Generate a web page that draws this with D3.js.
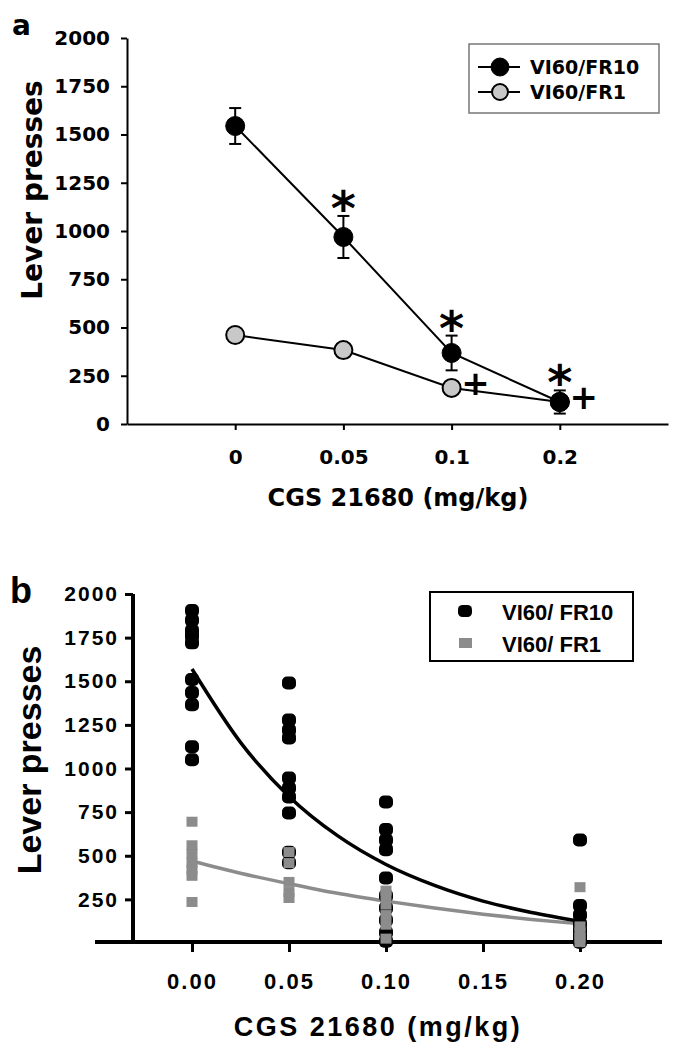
<!DOCTYPE html>
<html><head><meta charset="utf-8">
<script src="https://cdn.jsdelivr.net/npm/d3@7"></script>
<style>
html,body{margin:0;padding:0;background:#fff;}
svg{display:block;}
</style></head>
<body>
<svg id="chart" width="675" height="1050"></svg>
<script>
// ---------- Panel a data ----------
const dosesA = ["0", "0.05", "0.1", "0.2"];
const fr10Mean = [1544, 969, 368, 114];
const fr10Sem = [93, 109, 90, 60];
const fr1Mean = [461, 383, 187, 114];
const fr1Sem = [35, 12, 12, 30];
const starIdx = [1, 2, 3];
const plusIdx = [2, 3];
const yTicksA = [0, 250, 500, 750, 1000, 1250, 1500, 1750, 2000];
const seriesNames = ["VI60/FR10", "VI60/FR1"];

// ---------- Panel b data ----------
const dosesB = [0, 0.05, 0.1, 0.2];
const xTicksB = [0, 0.05, 0.10, 0.15, 0.20];
const yTicksB = [250, 500, 750, 1000, 1250, 1500, 1750, 2000];
const fr10Ind0 = [1905, 1850, 1790, 1760, 1720, 1510, 1435, 1365, 1125, 1050];
const fr10Ind1 = [1490, 1278, 1221, 1175, 946, 888, 837, 745, 520, 460];
const fr10Ind2 = [808, 650, 590, 535, 372, 270, 200, 130, 60, 10];
const fr10Ind3 = [590, 215, 160, 110, 75, 40, 20, 5];
const fr1Ind0 = [695, 560, 510, 460, 420, 385, 235];
const fr1Ind1 = [521, 458, 350, 292, 258];
const fr1Ind2 = [300, 275, 220, 160, 105, 25];
const fr1Ind3 = [320, 95, 60, 30, 5];
const fitX = [0, 0.025, 0.05, 0.075, 0.1, 0.125, 0.15, 0.175, 0.2];
const fr10Fit = [1570, 1150, 840, 615, 450, 330, 240, 175, 125];
const fr1Fit = [470, 400, 340, 285, 240, 200, 165, 135, 110];
const legendB = ["VI60/ FR10", "VI60/ FR1"];

const svg = d3.select("#chart");
const FA = "'DejaVu Sans', Verdana, sans-serif";
const FB = "'Liberation Sans', Arial, sans-serif";

// ================= PANEL A =================
const gA = svg.append("g");
const xA = d3.scalePoint().domain(dosesA).range([127, 668]).padding(1);
const yA = d3.scaleLinear().domain([0, 2000]).range([424, 38]);

const yAxA = gA.append("g").attr("transform", "translate(127,0)")
  .call(d3.axisLeft(yA).tickValues(yTicksA).tickSize(6).tickPadding(11).tickSizeOuter(0).tickFormat(d3.format("d")));
const xAxA = gA.append("g").attr("transform", "translate(0,424)")
  .call(d3.axisBottom(xA).tickSize(6).tickPadding(20).tickSizeOuter(0));
[yAxA, xAxA].forEach(ax => {
  ax.select(".domain").attr("stroke", "#000").attr("stroke-width", 2);
  ax.selectAll(".tick line").attr("stroke", "#000").attr("stroke-width", 2);
  ax.selectAll(".tick text").attr("fill", "#000").attr("font-family", FA)
    .attr("font-weight", "bold").attr("font-size", 20);
});

// lines
const lineA = d3.line().x((d, i) => xA(dosesA[i])).y(d => yA(d));
gA.append("path").datum(fr10Mean).attr("d", lineA).attr("fill", "none").attr("stroke", "#000").attr("stroke-width", 2);
gA.append("path").datum(fr1Mean).attr("d", lineA).attr("fill", "none").attr("stroke", "#000").attr("stroke-width", 2);

function errBars(means, sems) {
  means.forEach((m, i) => {
    const x = xA(dosesA[i]);
    const t = yA(m + sems[i]), b = yA(m - sems[i]);
    gA.append("line").attr("x1", x).attr("x2", x).attr("y1", t).attr("y2", b).attr("stroke", "#000").attr("stroke-width", 2);
    [t, b].forEach(yy => gA.append("line").attr("x1", x - 6).attr("x2", x + 6).attr("y1", yy).attr("y2", yy).attr("stroke", "#000").attr("stroke-width", 2));
  });
}
errBars(fr1Mean, fr1Sem);
errBars(fr10Mean, fr10Sem);

gA.selectAll("circle.fr1").data(fr1Mean).enter().append("circle")
  .attr("cx", (d, i) => xA(dosesA[i])).attr("cy", d => yA(d)).attr("r", 9)
  .attr("fill", "#c8c8c8").attr("stroke", "#000").attr("stroke-width", 2);
gA.selectAll("circle.fr10").data(fr10Mean).enter().append("circle")
  .attr("cx", (d, i) => xA(dosesA[i])).attr("cy", d => yA(d)).attr("r", 9.5)
  .attr("fill", "#000").attr("stroke", "#000").attr("stroke-width", 1);

// significance marks
starIdx.forEach(i => {
  gA.append("text").attr("x", xA(dosesA[i])).attr("y", yA(fr10Mean[i] + fr10Sem[i]) - 15 + 24)
    .attr("text-anchor", "middle").attr("font-family", FA).attr("font-weight", "bold")
    .attr("font-size", 48).text("*");
});
plusIdx.forEach(i => {
  gA.append("text").attr("x", xA(dosesA[i]) + 24).attr("y", yA(fr1Mean[i]) - 5 + 12)
    .attr("text-anchor", "middle").attr("font-family", FA).attr("font-weight", "bold")
    .attr("font-size", 34).text("+");
});

// titles
gA.append("text").attr("x", 12).attr("y", 35).attr("font-family", FA).attr("font-weight", "bold")
  .attr("font-size", 28).text("a");
gA.append("text").attr("transform", "translate(42,190) rotate(-90)").attr("text-anchor", "middle")
  .attr("font-family", FA).attr("font-weight", "bold").attr("font-size", 28).text("Lever presses");
gA.append("text").attr("x", 398).attr("y", 506).attr("text-anchor", "middle")
  .attr("font-family", FA).attr("font-weight", "bold").attr("font-size", 24).text("CGS 21680 (mg/kg)");

// legend a
gA.append("rect").attr("x", 469).attr("y", 44).attr("width", 190).attr("height", 69)
  .attr("fill", "#fff").attr("stroke", "#777").attr("stroke-width", 1.5);
seriesNames.forEach((name, i) => {
  const yy = 67 + i * 25;
  gA.append("line").attr("x1", 478).attr("x2", 520).attr("y1", yy).attr("y2", yy).attr("stroke", "#000").attr("stroke-width", 2);
  gA.append("circle").attr("cx", 500).attr("cy", yy).attr("r", i === 0 ? 9 : 8)
    .attr("fill", i === 0 ? "#000" : "#c8c8c8").attr("stroke", "#000").attr("stroke-width", i === 0 ? 1 : 2);
  gA.append("text").attr("x", 530).attr("y", yy + 7).attr("font-family", FA).attr("font-weight", "bold")
    .attr("font-size", 19).text(name);
});

// ================= PANEL B =================
const gB = svg.append("g");
const xB = d3.scaleLinear().domain([0, 0.2]).range([192, 580]);
const yB = d3.scaleLinear().domain([0, 2000]).range([943, 594]);

const xAxB = gB.append("g").attr("transform", "translate(0,942)")
  .call(d3.axisBottom(xB).tickValues(xTicksB).tickSize(10).tickPadding(21).tickSizeOuter(0).tickFormat(d3.format(".2f")));
xAxB.select(".domain").attr("d", "M95,0H662");
const yAxB = gB.append("g").attr("transform", "translate(133,0)")
  .call(d3.axisLeft(yB).tickValues(yTicksB).tickSize(8).tickPadding(6).tickSizeOuter(0).tickFormat(d3.format("d")));
yAxB.select(".domain").attr("d", "M0,594V942");
[xAxB, yAxB].forEach(ax => {
  ax.select(".domain").attr("stroke", "#000").attr("stroke-width", 4);
  ax.selectAll(".tick line").attr("stroke", "#000").attr("stroke-width", 3);
  ax.selectAll(".tick text").attr("fill", "#000").attr("font-family", FB)
    .attr("font-weight", "bold").attr("font-size", 22).attr("letter-spacing", 2);
});
yAxB.selectAll(".tick text").attr("font-size", 21);

// fit curves
const fitLine = d3.line().x((d, i) => xB(fitX[i])).y(d => yB(d)).curve(d3.curveMonotoneX);
gB.append("path").datum(fr1Fit).attr("d", fitLine).attr("fill", "none").attr("stroke", "#8c8c8c").attr("stroke-width", 3.5);
gB.append("path").datum(fr10Fit).attr("d", fitLine).attr("fill", "none").attr("stroke", "#000").attr("stroke-width", 3.5);

// individual points: black first, gray on top
const fr10Ind = [fr10Ind0, fr10Ind1, fr10Ind2, fr10Ind3];
const fr1Ind = [fr1Ind0, fr1Ind1, fr1Ind2, fr1Ind3];
fr10Ind.forEach((arr, i) => {
  gB.selectAll(null).data(arr).enter().append("rect")
    .attr("x", xB(dosesB[i]) - 7).attr("y", d => yB(d) - 6.5).attr("width", 14).attr("height", 13)
    .attr("rx", 5).attr("ry", 5).attr("fill", "#000");
});
fr1Ind.forEach((arr, i) => {
  gB.selectAll(null).data(arr).enter().append("rect")
    .attr("x", xB(dosesB[i]) - 5.5).attr("y", d => yB(d) - 5).attr("width", 11).attr("height", 10)
    .attr("fill", "#8c8c8c");
});

// titles
gB.append("text").attr("x", 10).attr("y", 603).attr("font-family", FB).attr("font-weight", "bold")
  .attr("font-size", 36).text("b");
gB.append("text").attr("transform", "translate(41,760) rotate(-90)").attr("text-anchor", "middle")
  .attr("font-family", FB).attr("font-weight", "bold").attr("font-size", 34).text("Lever presses");
gB.append("text").attr("x", 378).attr("y", 1036).attr("text-anchor", "middle")
  .attr("font-family", FB).attr("font-weight", "bold").attr("font-size", 27).attr("letter-spacing", 2.5)
  .text("CGS 21680 (mg/kg)");

// legend b
gB.append("rect").attr("x", 430).attr("y", 592).attr("width", 203).attr("height", 69)
  .attr("fill", "#fff").attr("stroke", "#000").attr("stroke-width", 2);
legendB.forEach((name, i) => {
  const yy = 611 + i * 32;
  if (i === 0) {
    gB.append("rect").attr("x", 458).attr("y", yy - 6).attr("width", 14).attr("height", 12)
      .attr("rx", 4.5).attr("ry", 4.5).attr("fill", "#000");
  } else {
    gB.append("rect").attr("x", 459).attr("y", yy - 5).attr("width", 13).attr("height", 10).attr("fill", "#8c8c8c");
  }
  gB.append("text").attr("x", 502).attr("y", yy + 9).attr("font-family", FB).attr("font-weight", "bold")
    .attr("font-size", 22).text(name);
});
</script>
</body></html>
